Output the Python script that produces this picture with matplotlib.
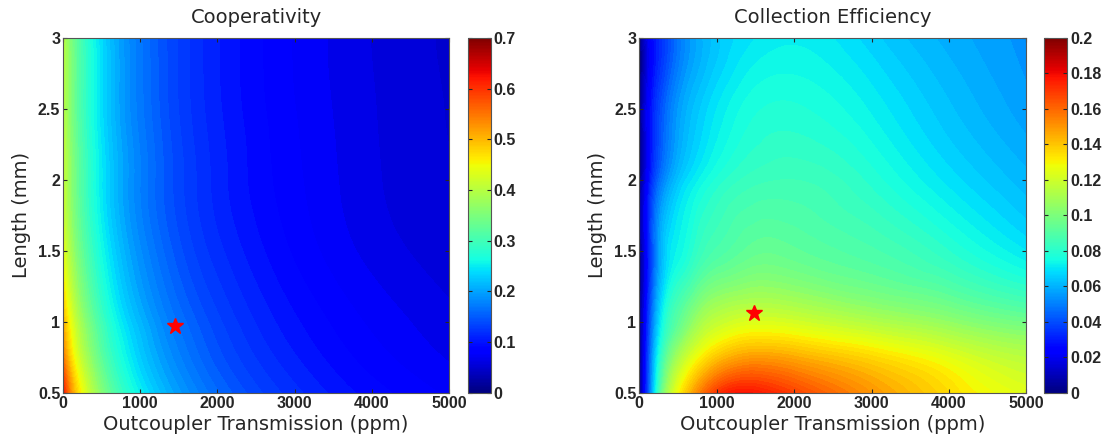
import numpy as np
import matplotlib
matplotlib.use('Agg')
import matplotlib.pyplot as plt
import matplotlib.tri as mtri
from matplotlib.cm import ScalarMappable
from matplotlib.colors import Normalize
from matplotlib.ticker import FormatStrFormatter

# grid
trans_ppm = [0, 100, 250, 500, 750, 1000, 1500, 2000, 3000, 4000, 5000]
length_mm = [0.5, 0.75, 1.0, 1.5, 2.0, 2.5, 3.0]

# cooperativity, one row per length
coop = [
    [0.620, 0.530, 0.446, 0.356, 0.294, 0.252, 0.195, 0.159, 0.117, 0.092, 0.077],
    [0.550, 0.477, 0.404, 0.322, 0.267, 0.228, 0.177, 0.144, 0.106, 0.083, 0.069],
    [0.504, 0.442, 0.374, 0.299, 0.247, 0.212, 0.164, 0.134, 0.098, 0.077, 0.064],
    [0.440, 0.386, 0.327, 0.261, 0.216, 0.185, 0.143, 0.117, 0.086, 0.067, 0.056],
    [0.416, 0.365, 0.309, 0.246, 0.204, 0.175, 0.135, 0.110, 0.081, 0.063, 0.053],
    [0.404, 0.355, 0.300, 0.239, 0.198, 0.170, 0.131, 0.107, 0.079, 0.062, 0.052],
    [0.400, 0.351, 0.297, 0.237, 0.196, 0.168, 0.130, 0.106, 0.078, 0.061, 0.051],
]

# collection efficiency, one row per length
coll = [
    [0.000, 0.035, 0.085, 0.128, 0.152, 0.170, 0.177, 0.168, 0.150, 0.135, 0.124],
    [0.000, 0.033, 0.075, 0.110, 0.128, 0.140, 0.149, 0.146, 0.136, 0.125, 0.115],
    [0.000, 0.030, 0.066, 0.092, 0.108, 0.117, 0.123, 0.121, 0.113, 0.105, 0.097],
    [0.000, 0.025, 0.055, 0.073, 0.082, 0.088, 0.094, 0.093, 0.088, 0.080, 0.070],
    [0.000, 0.022, 0.045, 0.063, 0.072, 0.078, 0.084, 0.085, 0.079, 0.069, 0.061],
    [0.000, 0.020, 0.038, 0.055, 0.064, 0.070, 0.077, 0.078, 0.072, 0.063, 0.056],
    [0.000, 0.018, 0.032, 0.048, 0.058, 0.064, 0.070, 0.072, 0.066, 0.059, 0.054],
]

star_coop = (1450, 0.97)
star_coll = (1480, 1.06)

titles = ['Cooperativity', 'Collection Efficiency']
fields = [coop, coll]
vmax = [0.7, 0.2]
cticks = [np.arange(0, 0.71, 0.1), np.arange(0, 0.201, 0.02)]
stars = [star_coop, star_coll]

# triangulate in unit coordinates so the cubic smoothing is not skewed
TT, LL = np.meshgrid(trans_ppm, length_mm)
u = TT.ravel() / 5000.0
v = (LL.ravel() - 0.5) / 2.5
tri_unit = mtri.Triangulation(u, v)
refiner = mtri.UniformTriRefiner(tri_unit)

fig = plt.figure(figsize=(11.06, 4.46), dpi=100)
ax_pos = [[0.057, 0.119, 0.349, 0.796], [0.578, 0.119, 0.350, 0.796]]
cb_pos = [[0.423, 0.119, 0.021, 0.796], [0.944, 0.119, 0.021, 0.796]]

tick_font = dict(family='Liberation Sans', size=11.5, weight='bold')
text_col = '#262626'

for i in range(2):
    ax = fig.add_axes(ax_pos[i])
    z = np.array(fields[i]).ravel()
    tri_fine, z_fine = refiner.refine_field(z, subdiv=4)
    tri_plot = mtri.Triangulation(tri_fine.x * 5000.0, tri_fine.y * 2.5 + 0.5,
                                  tri_fine.triangles)
    z_fine = np.clip(z_fine, 0, vmax[i])
    levels = np.linspace(0, vmax[i], 81)
    ax.tricontourf(tri_plot, z_fine, levels=levels, cmap='jet',
                   vmin=0, vmax=vmax[i])
    ax.plot(stars[i][0], stars[i][1], marker='*', color='red', markersize=12,
            markeredgecolor='red')
    ax.set_xlim(0, 5000)
    ax.set_ylim(0.5, 3)
    ax.set_xticks([0, 1000, 2000, 3000, 4000, 5000])
    ax.set_yticks([0.5, 1, 1.5, 2, 2.5, 3])
    ax.yaxis.set_major_formatter(FormatStrFormatter('%g'))
    ax.tick_params(direction='in', top=True, right=True, length=3, width=0.8,
                   pad=2, colors=text_col)
    for lab in ax.get_xticklabels() + ax.get_yticklabels():
        lab.set_fontproperties(tick_font)
    ax.set_xlabel('Outcoupler Transmission (ppm)', fontsize=14, color=text_col,
                  labelpad=3)
    ax.set_ylabel('Length (mm)', fontsize=14, color=text_col, labelpad=5)
    ax.set_title(titles[i], fontsize=14, color=text_col, pad=11)
    for s in ax.spines.values():
        s.set_color('#555555')
        s.set_linewidth(0.8)

    cax = fig.add_axes(cb_pos[i])
    sm = ScalarMappable(norm=Normalize(0, vmax[i]), cmap='jet')
    cb = fig.colorbar(sm, cax=cax, ticks=cticks[i])
    cb.ax.yaxis.set_major_formatter(FormatStrFormatter('%g'))
    cb.ax.tick_params(direction='in', length=3, width=0.8, pad=2, colors=text_col,
                      left=True)
    for lab in cb.ax.get_yticklabels():
        lab.set_fontproperties(tick_font)
    cb.outline.set_edgecolor('#555555')
    cb.outline.set_linewidth(0.8)

fig.savefig('out.png', dpi=100)
